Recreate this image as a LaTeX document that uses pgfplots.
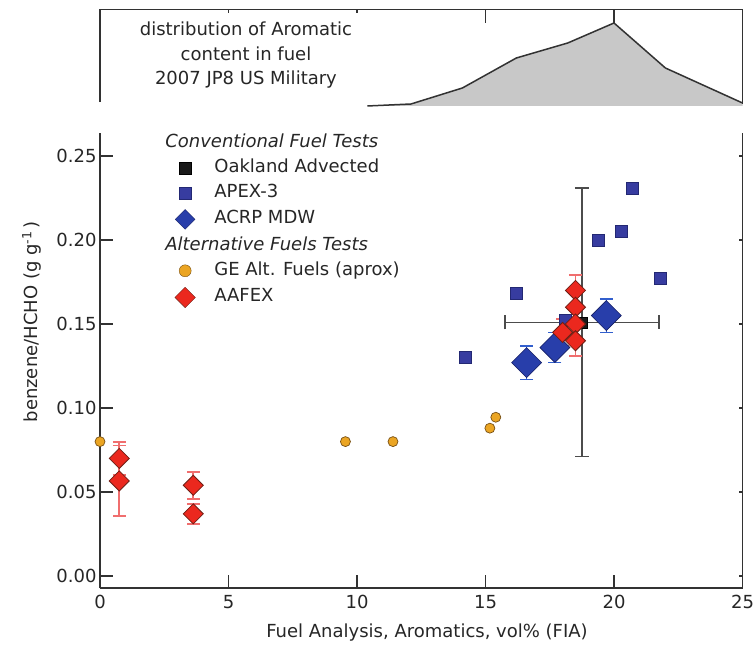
\documentclass[border=0pt]{standalone}
\usepackage{pgfplots}
\pgfplotsset{compat=1.18}
\usepackage{fontspec}
\setmainfont{DejaVu Sans}
\definecolor{apex}{RGB}{55,60,160}
\definecolor{apexd}{RGB}{35,40,115}
\definecolor{acrp}{RGB}{40,62,170}
\definecolor{acrpd}{RGB}{20,30,100}
\definecolor{acrperr}{RGB}{50,95,205}
\definecolor{aafex}{RGB}{235,40,30}
\definecolor{aafexd}{RGB}{110,30,20}
\definecolor{aafexerr}{RGB}{240,110,110}
\definecolor{geor}{RGB}{235,165,35}
\definecolor{geord}{RGB}{120,80,20}
\definecolor{spine}{RGB}{50,50,50}
\definecolor{distfill}{RGB}{200,200,200}
\begin{document}
\begin{tikzpicture}[font=\fontsize{18}{22}\selectfont]
\useasboundingbox (0,0) rectangle (754pt,648pt);
% ---------- inset distribution ----------
\begin{axis}[at={(100pt,542pt)}, anchor=south west, scale only axis,
  width=642.5pt, height=96.7pt,
  xmin=0, xmax=25, ymin=0, ymax=96.7,
  axis line style={draw=none},
  xtick=\empty, ytick=\empty,
  clip=false]
\addplot[fill=distfill, draw=none, forget plot] coordinates
  {(10.4,0)(12.1,2)(14.1,18)(16.2,48)(18.2,63)(20.0,83)(22.0,38)(25,3)} \closedcycle;
\addplot[draw=spine, line width=1.5pt, forget plot] coordinates
  {(10.4,0)(12.1,2)(14.1,18)(16.2,48)(18.2,63)(20.0,83)(22.0,38)(25,3)};
\draw[draw=spine, line width=1.2pt] (rel axis cs:0,0.04) -- (rel axis cs:0,1) -- (rel axis cs:1,1) -- (rel axis cs:1,0.02);
% top tick marks
\draw[draw=spine, line width=1.2pt] (axis cs:5,96.7) -- ++(0pt,-3.5pt);
\draw[draw=spine, line width=1.2pt] (axis cs:10,96.7) -- ++(0pt,-3.5pt);
\draw[draw=spine, line width=1.2pt] (axis cs:15,96.7) -- ++(0pt,-14pt);
\draw[draw=spine, line width=1.2pt] (axis cs:20,96.7) -- ++(0pt,-14pt);
\node[align=center, font=\fontsize{18}{24.5}\selectfont, text=black!85] at (axis cs:5.68,50.5)
  {distribution of Aromatic\\content in fuel\\2007 JP8 US Military};
\end{axis}
% ---------- right-side short ticks ----------
\begin{axis}[at={(100pt,60pt)}, anchor=south west, scale only axis,
  width=642.5pt, height=455pt,
  xmin=0, xmax=25, ymin=-0.00714, ymax=0.2637,
  axis x line=none, axis y line*=right,
  ytick={0,0.05,0.10,0.15,0.20,0.25}, yticklabels={},
  tick align=inside, major tick length=4pt,
  axis line style={draw=spine, line width=1.2pt},
  tick style={draw=spine, line width=1.2pt}]
\addplot[draw=none, forget plot] coordinates {(0,0)};
\end{axis}
% ---------- main axis ----------
\begin{axis}[at={(100pt,60pt)}, anchor=south west, scale only axis,
  width=642.5pt, height=455pt,
  xmin=0, xmax=25, ymin=-0.00714, ymax=0.2637,
  axis x line*=bottom, axis y line*=left,
  xtick={0,5,10,15,20,25},
  ytick={0,0.05,0.10,0.15,0.20,0.25},
  tick align=inside, major tick length=13pt,
  axis line style={draw=spine, line width=1.2pt},
  tick style={draw=spine, line width=1.2pt},
  /pgf/number format/assume math mode=true,
  yticklabel style={/pgf/number format/.cd, fixed, fixed zerofill, precision=2},
  xticklabel style={yshift=-4pt},
  ticklabel style={text=black!85},
  xlabel={Fuel Analysis, Aromatics, vol\% (FIA)},
  ylabel={benzene/HCHO (g g\textsuperscript{-1}\,)},
  every axis x label/.style={at={(axis description cs:0.509,-0.097)}, anchor=center, text=black!85},
  every axis y label/.style={at={(axis description cs:-0.106,0.585)}, anchor=center, rotate=90, text=black!85},
  clip=false,
  legend cell align=left,
  legend style={at={(axis description cs:0.1167,0.9967)}, anchor=north west,
    draw=none, fill=none, inner sep=0pt, outer sep=0pt,
    column sep=19pt, row sep=8pt,
    nodes={inner sep=0pt, text height=13pt, text depth=4pt, text=black!85}},
  legend image code/.code={\draw[#1] plot coordinates {(0pt,0pt)};}
  ]
% Oakland Advected (with large error cross)
\addplot[only marks, mark=square*, mark size=5.5pt, mark options={fill=black!90, draw=black},
  forget plot,
  error bars/.cd, x dir=both, x explicit, y dir=both, y explicit,
  error bar style={draw=black!70, line width=1.5pt},
  error mark options={rotate=90, mark size=7pt, draw=black!70, line width=1.5pt}]
  coordinates {(18.75,0.151) +- (3.0,0.080)};
% APEX-3
\addplot[only marks, mark=square*, mark size=6pt, mark options={fill=apex, draw=apexd, line width=0.6pt}, forget plot]
  coordinates {(14.2,0.130)(16.2,0.168)(18.1,0.152)(19.4,0.200)(20.3,0.205)(20.7,0.231)(21.8,0.177)};
% ACRP MDW
\addplot[only marks, mark=square*, mark size=10.6pt, mark options={rotate=45, fill=acrp, draw=acrpd, line width=0.6pt},
  forget plot,
  error bars/.cd, y dir=both, y explicit,
  error bar style={draw=acrperr, line width=1.5pt},
  error mark options={rotate=90, mark size=6.5pt, draw=acrperr, line width=1.5pt}]
  coordinates {(16.6,0.127) +- (0,0.010) (17.7,0.136) +- (0,0.009) (19.7,0.155) +- (0,0.010)};
% GE Alt. Fuels
\addplot[only marks, mark=*, mark size=5pt, mark options={fill=geor, draw=geord, line width=0.7pt}, forget plot]
  coordinates {(0,0.080)(9.55,0.080)(11.4,0.080)(15.17,0.088)(15.4,0.0945)};
% AAFEX
\addplot[only marks, mark=square*, mark size=7.1pt, mark options={rotate=45, fill=aafex, draw=aafexd, line width=0.8pt},
  forget plot,
  error bars/.cd, y dir=both, y explicit,
  error bar style={draw=aafexerr, line width=1.6pt},
  error mark options={rotate=90, mark size=6.5pt, draw=aafexerr, line width=1.6pt}]
  coordinates {(0.75,0.0566) +- (0,0.021) (0.75,0.070) +- (0,0.0098)
               (3.63,0.054) +- (0,0.008) (3.63,0.037) +- (0,0.006)
               (18.5,0.170) +- (0,0.009) (18.5,0.160) +- (0,0.008) (18.5,0.150) +- (0,0.008)
               (18.0,0.145) +- (0,0.008) (18.5,0.140) +- (0,0.009)};
% legend
\addlegendimage{empty legend}
\addlegendentry{\hspace*{-49pt}\textit{Conventional Fuel Tests}}
\addlegendimage{only marks, mark=square*, mark size=6pt, mark options={fill=black!90, draw=black}}
\addlegendentry{Oakland Advected}
\addlegendimage{only marks, mark=square*, mark size=6pt, mark options={fill=apex, draw=apexd}}
\addlegendentry{APEX-3}
\addlegendimage{only marks, mark=square*, mark size=7pt, mark options={rotate=45, fill=acrp, draw=acrpd}}
\addlegendentry{ACRP MDW}
\addlegendimage{empty legend}
\addlegendentry{\hspace*{-49pt}\textit{Alternative Fuels Tests}}
\addlegendimage{only marks, mark=*, mark size=6pt, mark options={fill=geor, draw=geord}}
\addlegendentry{GE Alt. Fuels (aprox)}
\addlegendimage{only marks, mark=square*, mark size=7.2pt, mark options={rotate=45, fill=aafex, draw=aafexd}}
\addlegendentry{AAFEX}
\end{axis}
\end{tikzpicture}
\end{document}
